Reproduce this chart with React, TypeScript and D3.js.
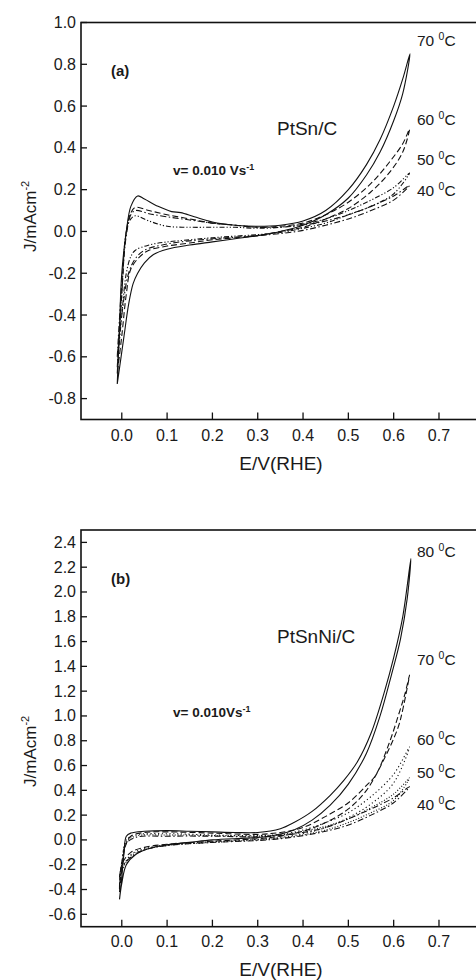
import React from "react";
import * as d3 from "d3";

type P = [number, number];

// ---------- DATA ----------
const xTicks = [0.0, 0.1, 0.2, 0.3, 0.4, 0.5, 0.6, 0.7];
const topYTicks = [-0.8, -0.6, -0.4, -0.2, 0.0, 0.2, 0.4, 0.6, 0.8, 1.0];
const botYTicks = [-0.6, -0.4, -0.2, 0.0, 0.2, 0.4, 0.6, 0.8, 1.0, 1.2, 1.4, 1.6, 1.8, 2.0, 2.2, 2.4];

// PtSn/C (a)
const ptsn70Fwd: P[] = [[-0.01,-0.73],[-0.005,-0.45],[0.0,-0.2],[0.01,0.0],[0.02,0.12],[0.035,0.17],[0.05,0.155],[0.08,0.12],[0.11,0.095],[0.13,0.09],[0.16,0.07],[0.2,0.045],[0.25,0.03],[0.3,0.025],[0.35,0.03],[0.4,0.05],[0.45,0.1],[0.5,0.2],[0.54,0.32],[0.57,0.44],[0.6,0.6],[0.62,0.73],[0.636,0.85]];
const ptsn70Rev: P[] = [[0.636,0.85],[0.62,0.66],[0.6,0.53],[0.57,0.38],[0.54,0.27],[0.5,0.16],[0.45,0.08],[0.4,0.03],[0.35,0.0],[0.3,-0.02],[0.25,-0.035],[0.2,-0.05],[0.15,-0.065],[0.1,-0.085],[0.07,-0.11],[0.05,-0.15],[0.035,-0.2],[0.025,-0.25],[0.015,-0.35],[0.005,-0.5],[-0.01,-0.73]];
const ptsn60Fwd: P[] = [[-0.01,-0.68],[0.0,-0.3],[0.01,0.0],[0.02,0.09],[0.03,0.115],[0.06,0.1],[0.1,0.08],[0.15,0.06],[0.2,0.04],[0.25,0.03],[0.3,0.02],[0.35,0.025],[0.4,0.04],[0.45,0.08],[0.5,0.14],[0.55,0.23],[0.59,0.33],[0.62,0.42],[0.635,0.49]];
const ptsn60Rev: P[] = [[0.635,0.49],[0.62,0.38],[0.59,0.28],[0.55,0.19],[0.5,0.11],[0.45,0.06],[0.4,0.02],[0.35,0.0],[0.3,-0.02],[0.2,-0.04],[0.15,-0.055],[0.1,-0.07],[0.06,-0.09],[0.04,-0.12],[0.02,-0.18],[0.01,-0.3],[0.0,-0.5],[-0.01,-0.68]];
const ptsn50Fwd: P[] = [[-0.01,-0.65],[0.0,-0.3],[0.01,0.0],[0.02,0.06],[0.03,0.075],[0.06,0.05],[0.1,0.025],[0.15,0.02],[0.2,0.02],[0.25,0.02],[0.3,0.015],[0.35,0.02],[0.4,0.035],[0.45,0.06],[0.5,0.1],[0.55,0.15],[0.6,0.21],[0.635,0.28]];
const ptsn50Rev: P[] = [[0.635,0.28],[0.6,0.18],[0.55,0.12],[0.5,0.08],[0.45,0.04],[0.4,0.015],[0.35,-0.005],[0.3,-0.015],[0.2,-0.03],[0.15,-0.04],[0.1,-0.05],[0.06,-0.065],[0.03,-0.09],[0.02,-0.12],[0.01,-0.2],[0.0,-0.4],[-0.01,-0.65]];
const ptsn40Fwd: P[] = [[-0.01,-0.6],[0.0,-0.25],[0.01,-0.02],[0.02,0.08],[0.03,0.1],[0.06,0.085],[0.1,0.07],[0.15,0.055],[0.2,0.04],[0.25,0.03],[0.3,0.02],[0.35,0.02],[0.4,0.03],[0.45,0.05],[0.5,0.08],[0.55,0.12],[0.6,0.17],[0.635,0.22]];
const ptsn40Rev: P[] = [[0.635,0.22],[0.6,0.15],[0.55,0.1],[0.5,0.06],[0.45,0.03],[0.4,0.005],[0.35,-0.01],[0.3,-0.02],[0.2,-0.035],[0.15,-0.045],[0.1,-0.06],[0.05,-0.09],[0.03,-0.13],[0.015,-0.2],[0.0,-0.4],[-0.01,-0.6]];

// PtSnNi/C (b)
const ptsnni80Fwd: P[] = [[-0.005,-0.48],[0.0,-0.3],[0.005,-0.1],[0.01,0.03],[0.02,0.055],[0.05,0.07],[0.1,0.075],[0.15,0.07],[0.2,0.065],[0.25,0.06],[0.3,0.06],[0.35,0.09],[0.38,0.14],[0.42,0.23],[0.46,0.36],[0.49,0.48],[0.52,0.63],[0.55,0.86],[0.58,1.2],[0.6,1.47],[0.62,1.8],[0.638,2.27]];
const ptsnni80Rev: P[] = [[0.638,2.27],[0.63,1.95],[0.615,1.62],[0.595,1.33],[0.57,1.0],[0.54,0.7],[0.5,0.45],[0.46,0.28],[0.42,0.16],[0.38,0.08],[0.34,0.04],[0.3,0.02],[0.2,0.0],[0.15,-0.02],[0.1,-0.04],[0.06,-0.07],[0.03,-0.12],[0.01,-0.2],[0.0,-0.35],[-0.005,-0.48]];
const ptsnni70Fwd: P[] = [[-0.005,-0.42],[0.0,-0.25],[0.008,-0.05],[0.02,0.03],[0.05,0.06],[0.1,0.065],[0.2,0.055],[0.3,0.045],[0.35,0.06],[0.4,0.1],[0.45,0.19],[0.5,0.3],[0.54,0.44],[0.56,0.52],[0.59,0.78],[0.61,1.0],[0.625,1.18],[0.635,1.33]];
const ptsnni70Rev: P[] = [[0.635,1.33],[0.62,1.05],[0.61,0.91],[0.58,0.66],[0.54,0.4],[0.5,0.25],[0.45,0.14],[0.4,0.07],[0.35,0.03],[0.3,0.01],[0.2,-0.01],[0.1,-0.035],[0.05,-0.06],[0.02,-0.1],[0.0,-0.2],[-0.005,-0.42]];
const ptsnni60Fwd: P[] = [[-0.005,-0.4],[0.0,-0.2],[0.01,0.0],[0.03,0.04],[0.1,0.05],[0.2,0.04],[0.3,0.035],[0.35,0.045],[0.4,0.08],[0.45,0.14],[0.5,0.22],[0.55,0.35],[0.6,0.53],[0.635,0.75]];
const ptsnni60Rev: P[] = [[0.635,0.75],[0.6,0.46],[0.55,0.29],[0.5,0.18],[0.45,0.1],[0.4,0.05],[0.35,0.02],[0.3,0.005],[0.2,-0.015],[0.1,-0.04],[0.05,-0.07],[0.02,-0.12],[0.0,-0.25],[-0.005,-0.4]];
const ptsnni50Fwd: P[] = [[-0.005,-0.35],[0.0,-0.2],[0.01,-0.02],[0.03,0.03],[0.1,0.04],[0.2,0.035],[0.3,0.03],[0.35,0.04],[0.4,0.07],[0.45,0.11],[0.5,0.17],[0.55,0.26],[0.6,0.37],[0.635,0.5]];
const ptsnni50Rev: P[] = [[0.635,0.5],[0.6,0.32],[0.55,0.22],[0.5,0.14],[0.45,0.08],[0.4,0.04],[0.35,0.015],[0.3,0.0],[0.2,-0.02],[0.1,-0.045],[0.05,-0.08],[0.02,-0.13],[0.0,-0.25],[-0.005,-0.35]];
const ptsnni40Fwd: P[] = [[-0.005,-0.3],[0.0,-0.18],[0.01,-0.03],[0.03,0.02],[0.1,0.03],[0.2,0.03],[0.3,0.025],[0.35,0.035],[0.4,0.06],[0.45,0.1],[0.5,0.17],[0.55,0.25],[0.6,0.34],[0.635,0.43]];
const ptsnni40Rev: P[] = [[0.635,0.43],[0.6,0.3],[0.55,0.2],[0.5,0.12],[0.45,0.07],[0.4,0.035],[0.35,0.01],[0.3,-0.005],[0.2,-0.02],[0.1,-0.045],[0.05,-0.08],[0.02,-0.14],[0.0,-0.22],[-0.005,-0.3]];

const DASH: Record<string, string | undefined> = {
  solid: undefined,
  dashed: "6,3",
  dotted: "1.2,2.6",
  dashdot: "6,2.5,1.5,2.5",
  dashdotdot: "5,2,1.2,2,1.2,2",
  finedot: "1,1.8",
};

const topSeries = [
  { t: "70", style: "solid", fwd: ptsn70Fwd, rev: ptsn70Rev },
  { t: "60", style: "dashed", fwd: ptsn60Fwd, rev: ptsn60Rev },
  { t: "50", style: "dashdotdot", fwd: ptsn50Fwd, rev: ptsn50Rev },
  { t: "40", style: "dashdot", fwd: ptsn40Fwd, rev: ptsn40Rev },
];
const botSeries = [
  { t: "80", style: "solid", fwd: ptsnni80Fwd, rev: ptsnni80Rev },
  { t: "70", style: "dashed", fwd: ptsnni70Fwd, rev: ptsnni70Rev },
  { t: "60", style: "dotted", fwd: ptsnni60Fwd, rev: ptsnni60Rev },
  { t: "50", style: "finedot", fwd: ptsnni50Fwd, rev: ptsnni50Rev },
  { t: "40", style: "dashdot", fwd: ptsnni40Fwd, rev: ptsnni40Rev },
];

// ---------- LAYOUT ----------
const FONT = "Arial, 'Liberation Sans', Helvetica, sans-serif";
const X0 = 81;
const X1 = 484.3;

const topLabelsY = [46, 125, 165, 196];
const botLabelsY = [557, 665, 745, 778, 810];

function Panel(props: {
  yDomain: [number, number];
  yRange: [number, number];
  yTicks: number[];
  series: { t: string; style: string; fwd: P[]; rev: P[] }[];
  labelYs: number[];
  tag: string;
  tagY: number;
  title: string;
  titleY: number;
  vx: number;
  vy: number;
  vText: string;
  ylabStart: number;
  xTickBase: number;
  xLabBase: number;
}) {
  const x = d3.scaleLinear().domain([-0.09, 0.8]).range([X0, X1]);
  const y = d3.scaleLinear().domain(props.yDomain).range(props.yRange);
  const line = d3
    .line<P>()
    .x((d) => x(d[0]))
    .y((d) => y(d[1]))
    .curve(d3.curveCatmullRom.alpha(0.5));
  const top = props.yRange[1];
  const bot = props.yRange[0];
  return (
    <g>
      {props.series.map((s, i) => (
        <path
          key={i}
          d={line(s.fwd.concat(s.rev.slice(1))) || ""}
          fill="none"
          stroke="#111"
          strokeWidth={1.1}
          strokeDasharray={DASH[s.style]}
        />
      ))}
      <rect x={X0} y={top} width={X1 - X0} height={bot - top} fill="none" stroke="#111" strokeWidth={1.6} />
      {props.yTicks.map((t) => (
        <g key={"y" + t}>
          <line x1={X0} x2={X0 + 6} y1={y(t)} y2={y(t)} stroke="#111" strokeWidth={1.3} />
          <text x={X0 - 5} y={y(t) + 5.5} textAnchor="end" fontSize={16} fontFamily={FONT} fill="#1a1a1a">
            {t.toFixed(1)}
          </text>
        </g>
      ))}
      {xTicks.map((t) => (
        <g key={"x" + t}>
          <line x1={x(t)} x2={x(t)} y1={bot} y2={bot - 7} stroke="#111" strokeWidth={1.3} />
          <text x={x(t)} y={props.xTickBase} textAnchor="middle" fontSize={16} fontFamily={FONT} fill="#1a1a1a">
            {t.toFixed(1)}
          </text>
        </g>
      ))}
      <text x={281} y={props.xLabBase} textAnchor="middle" fontSize={19} fontFamily={FONT} fill="#1a1a1a">
        E/V(RHE)
      </text>
      <text
        transform={`translate(36,${props.ylabStart}) rotate(-90)`}
        fontSize={17}
        fontFamily={FONT}
        fill="#1a1a1a"
      >
        J/mAcm
        <tspan fontSize={11} dy={-7}>-2</tspan>
      </text>
      <text x={111} y={props.tagY} fontSize={15} fontWeight="bold" fontFamily={FONT} fill="#1a1a1a">
        {props.tag}
      </text>
      <text x={277} y={props.titleY} fontSize={19} fontFamily={FONT} fill="#1a1a1a">
        {props.title}
      </text>
      <text x={props.vx} y={props.vy} fontSize={13.5} fontWeight="bold" fontFamily={FONT} fill="#1a1a1a">
        {props.vText}
        <tspan fontSize={9} dy={-5}>-1</tspan>
      </text>
      {props.series.map((s, i) => (
        <text key={"l" + i} x={417} y={props.labelYs[i]} fontSize={15.5} fontFamily={FONT} fill="#1a1a1a">
          {s.t + " "}
          <tspan fontSize={10.5} dy={-6}>0</tspan>
          <tspan dy={6}>C</tspan>
        </text>
      ))}
    </g>
  );
}

export default function App() {
  return (
    <svg
      width={476}
      height={980}
      style={{ position: "absolute", left: 0, top: 0, background: "#fff" }}
    >
      <rect x={0} y={0} width={476} height={980} fill="#fff" />
      <Panel
        yDomain={[-0.9, 1.0]}
        yRange={[419.5, 22.5]}
        yTicks={topYTicks}
        series={topSeries}
        labelYs={topLabelsY}
        tag="(a)"
        tagY={76}
        title="PtSn/C"
        titleY={135}
        vx={173}
        vy={175}
        vText="v= 0.010 Vs"
        ylabStart={252}
        xTickBase={441}
        xLabBase={470}
      />
      <Panel
        yDomain={[-0.7, 2.5]}
        yRange={[926.7, 530]}
        yTicks={botYTicks}
        series={botSeries}
        labelYs={botLabelsY}
        tag="(b)"
        tagY={584}
        title="PtSnNi/C"
        titleY={643}
        vx={173}
        vy={717}
        vText="v= 0.010Vs"
        ylabStart={787}
        xTickBase={947}
        xLabBase={976}
      />
    </svg>
  );
}
